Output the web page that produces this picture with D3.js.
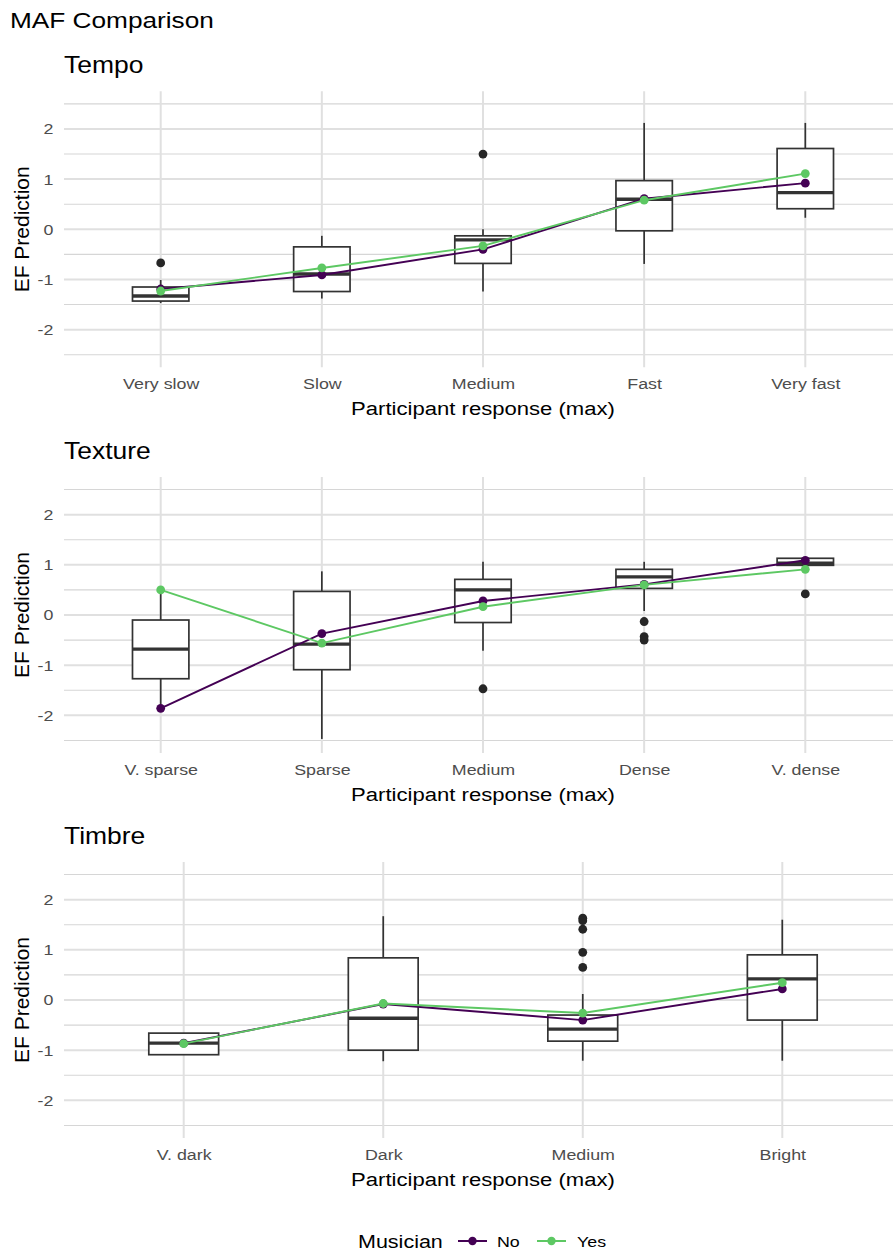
<!DOCTYPE html>
<html>
<head>
<meta charset="utf-8">
<script src="https://cdn.jsdelivr.net/npm/d3@7"></script>
<style>
  body { margin: 0; background: #fff; }
  svg { display: block; font-family: "Liberation Sans", Arial, sans-serif; }
</style>
</head>
<body>
<div id="chart"></div>
<script>
// ----- DATA -----
const tempoCats = ["Very slow", "Slow", "Medium", "Fast", "Very fast"];
const tempoLow  = [-1.47, -1.38, -1.24, -0.69, 0.23];
const tempoQ1   = [-1.43, -1.24, -0.68, -0.03, 0.41];
const tempoMed  = [-1.33, -0.89, -0.21, 0.60, 0.73];
const tempoQ3   = [-1.15, -0.35, -0.13, 0.97, 1.61];
const tempoHigh = [-1.01, -0.13, 0.00, 2.12, 2.12];
const tempoOut  = [[-0.67], [], [1.50], [], []];
const tempoNo   = [-1.19, -0.91, -0.40, 0.61, 0.92];
const tempoYes  = [-1.23, -0.77, -0.33, 0.58, 1.11];

const textureCats = ["V. sparse", "Sparse", "Medium", "Dense", "V. dense"];
const textureLow  = [-1.85, -2.47, -0.71, 0.08, 0.99];
const textureQ1   = [-1.27, -1.09, -0.15, 0.53, 0.99];
const textureMed  = [-0.68, -0.58, 0.50, 0.76, 1.03];
const textureQ3   = [-0.10, 0.47, 0.71, 0.91, 1.13];
const textureHigh = [0.47, 0.87, 1.06, 1.06, 1.13];
const textureOut  = [[], [], [-1.47], [-0.13, -0.43, -0.50], [0.42]];
const textureNo   = [-1.86, -0.37, 0.28, 0.61, 1.09];
const textureYes  = [0.50, -0.56, 0.165, 0.60, 0.91];

const timbreCats = ["V. dark", "Dark", "Medium", "Bright"];
const timbreLow  = [-1.09, -1.22, -1.21, -1.21];
const timbreQ1   = [-1.09, -1.00, -0.82, -0.40];
const timbreMed  = [-0.86, -0.365, -0.58, 0.42];
const timbreQ3   = [-0.66, 0.84, -0.30, 0.90];
const timbreHigh = [-0.66, 1.67, 0.12, 1.60];
const timbreOut  = [[], [], [1.63, 1.58, 1.41, 0.95, 0.65], []];
const timbreNo   = [-0.86, -0.08, -0.40, 0.22];
const timbreYes  = [-0.87, -0.07, -0.26, 0.345];

const yTicks = [-2, -1, 0, 1, 2];
const yMinor = [-2.5, -1.5, -0.5, 0.5, 1.5, 2.5];
const groups = ["No", "Yes"];
const groupColors = ["#440154", "#5DC863"];

// ----- LAYOUT -----
const W = 893, H = 1254;
const SX = 1.15;               // horizontal stretch of the text in the original
const panelLeft = 64, panelRight = 902;
const panelTops = [91.3, 477, 862];
const panelH = 276;

const panels = [
  {title: "Tempo",   cats: tempoCats,   low: tempoLow,   q1: tempoQ1,   med: tempoMed,   q3: tempoQ3,   high: tempoHigh,   out: tempoOut,   series: [tempoNo, tempoYes]},
  {title: "Texture", cats: textureCats, low: textureLow, q1: textureQ1, med: textureMed, q3: textureQ3, high: textureHigh, out: textureOut, series: [textureNo, textureYes]},
  {title: "Timbre",  cats: timbreCats,  low: timbreLow,  q1: timbreQ1,  med: timbreMed,  q3: timbreQ3,  high: timbreHigh,  out: timbreOut,  series: [timbreNo, timbreYes]}
];

const svg = d3.select("#chart").append("svg")
  .attr("width", W).attr("height", H);

// helper: text stretched horizontally around its anchor
function stretched(sel, x, y, txt, size, anchor, color) {
  return sel.append("text")
    .attr("transform", `translate(${x},${y}) scale(${SX},1)`)
    .attr("text-anchor", anchor)
    .style("font-size", size + "px")
    .attr("fill", color || "#000")
    .text(txt);
}

stretched(svg, 10, 28, "MAF Comparison", 22.8, "start");

panels.forEach((p, pi) => {
  const top = panelTops[pi], bottom = top + panelH;
  const x = d3.scalePoint().domain(p.cats).range([panelLeft, panelRight]).padding(0.6);
  const y = d3.scaleLinear().domain([-2.75, 2.75]).range([bottom, top]);
  const step = x.step();
  const bw = step * 0.35;

  const g = svg.append("g");

  // grid
  g.selectAll(".minor").data(yMinor).enter().append("line")
    .attr("x1", panelLeft).attr("x2", panelRight)
    .attr("y1", d => y(d)).attr("y2", d => y(d))
    .attr("stroke", "#d6d6d6").attr("stroke-width", 1.1);
  g.selectAll(".major").data(yTicks).enter().append("line")
    .attr("x1", panelLeft).attr("x2", panelRight)
    .attr("y1", d => y(d)).attr("y2", d => y(d))
    .attr("stroke", "#e0e0e0").attr("stroke-width", 2);
  g.selectAll(".vmajor").data(p.cats).enter().append("line")
    .attr("x1", d => x(d)).attr("x2", d => x(d))
    .attr("y1", top).attr("y2", bottom)
    .attr("stroke", "#e0e0e0").attr("stroke-width", 2);

  // panel title
  stretched(svg, panelLeft, top - 18, p.title, 23, "start");

  // axes
  const ya = g.append("g").attr("transform", `translate(${panelLeft},0)`)
    .call(d3.axisLeft(y).tickValues(yTicks).tickSize(0).tickPadding(9.3)
      .tickFormat(d => String(d)));
  ya.select(".domain").remove();
  ya.selectAll("text")
    .attr("transform", `scale(${SX},1)`)
    .attr("fill", "#4d4d4d").style("font-size", "15.5px")
    .style("font-family", "Liberation Sans, Arial, sans-serif");

  const xa = g.append("g").attr("transform", `translate(0,${bottom})`)
    .call(d3.axisBottom(x).tickSize(0).tickPadding(11));
  xa.select(".domain").remove();
  xa.selectAll("text")
    .attr("transform", `scale(${SX},1)`)
    .attr("fill", "#4d4d4d").style("font-size", "15.5px")
    .style("font-family", "Liberation Sans, Arial, sans-serif");

  stretched(svg, (panelLeft + 902) / 2, bottom + 48, "Participant response (max)", 19.2, "middle");
  svg.append("text")
    .attr("transform", `translate(29,${(top + bottom) / 2}) rotate(-90)`)
    .attr("text-anchor", "middle")
    .style("font-size", "21px")
    .text("EF Prediction");

  // boxes
  const boxes = g.selectAll(".box").data(p.cats).enter().append("g");
  boxes.append("line")
    .attr("x1", d => x(d)).attr("x2", d => x(d))
    .attr("y1", (d, i) => y(p.high[i])).attr("y2", (d, i) => y(p.q3[i]))
    .attr("stroke", "#333").attr("stroke-width", 1.7);
  boxes.append("line")
    .attr("x1", d => x(d)).attr("x2", d => x(d))
    .attr("y1", (d, i) => y(p.q1[i])).attr("y2", (d, i) => y(p.low[i]))
    .attr("stroke", "#333").attr("stroke-width", 1.7);
  boxes.append("rect")
    .attr("x", d => x(d) - bw / 2).attr("width", bw)
    .attr("y", (d, i) => y(p.q3[i]))
    .attr("height", (d, i) => y(p.q1[i]) - y(p.q3[i]))
    .attr("fill", "#fff").attr("stroke", "#333").attr("stroke-width", 1.7);
  boxes.append("line")
    .attr("x1", d => x(d) - bw / 2).attr("x2", d => x(d) + bw / 2)
    .attr("y1", (d, i) => y(p.med[i])).attr("y2", (d, i) => y(p.med[i]))
    .attr("stroke", "#333").attr("stroke-width", 3.4);

  // outliers
  const outs = [];
  p.out.forEach((arr, i) => arr.forEach(v => outs.push({c: p.cats[i], v})));
  g.selectAll(".out").data(outs).enter().append("circle")
    .attr("cx", d => x(d.c)).attr("cy", d => y(d.v)).attr("r", 4.4)
    .attr("fill", "#262626");

  // mean lines per group
  const line = d3.line().x((d, i) => x(p.cats[i])).y(d => y(d));
  p.series.forEach((s, si) => {
    g.append("path").datum(s)
      .attr("d", line).attr("fill", "none")
      .attr("stroke", groupColors[si]).attr("stroke-width", 1.9);
    g.selectAll(".pt" + si).data(s).enter().append("circle")
      .attr("cx", (d, i) => x(p.cats[i])).attr("cy", d => y(d)).attr("r", 4.4)
      .attr("fill", groupColors[si]);
  });
});

// legend
const lg = svg.append("g");
const legendY = 1241;
stretched(lg, 358, legendY + 7, "Musician", 18.7, "start");
const keyX = [458, 537];
const labX = [497, 577];
groups.forEach((name, i) => {
  lg.append("line")
    .attr("x1", keyX[i]).attr("x2", keyX[i] + 29)
    .attr("y1", legendY).attr("y2", legendY)
    .attr("stroke", groupColors[i]).attr("stroke-width", 2);
  lg.append("circle")
    .attr("cx", keyX[i] + 14.5).attr("cy", legendY).attr("r", 4.2)
    .attr("fill", groupColors[i]);
  stretched(lg, labX[i], legendY + 6, name, 15.5, "start");
});
</script>
</body>
</html>
